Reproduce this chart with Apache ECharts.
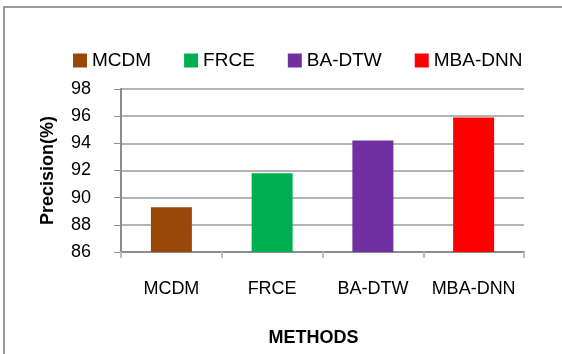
<!DOCTYPE html>
<html>
<head>
<meta charset="utf-8">
<script src="https://cdn.jsdelivr.net/npm/echarts@6/dist/echarts.min.js"></script>
<style>
  html, body { margin: 0; padding: 0; background: #fff; }
  #chart { width: 562px; height: 354px; }
</style>
</head>
<body>
<div id="chart"></div>
<script>
// Precision of each method, in percent
const methods = ['MCDM', 'FRCE', 'BA-DTW', 'MBA-DNN'];
const precision = [89.3, 91.8, 94.2, 95.9];
const colors = ['#984807', '#00B050', '#7030A0', '#FF0000'];
const yTicks = { min: 86, max: 98, step: 2 };

const FONT = 'Liberation Sans';

// One series per method so each gets its own legend entry;
// barGap -100% keeps each bar centred on its category.
const series = methods.map((name, i) => ({
  name,
  type: 'bar',
  barWidth: 41,
  barGap: '-100%',
  itemStyle: { color: colors[i] },
  data: methods.map((_, j) => (j === i ? precision[i] : '-'))
}));

const chart = echarts.init(document.getElementById('chart'), null, { renderer: 'canvas' });
chart.setOption({
  animation: false,
  backgroundColor: '#fff',
  textStyle: { fontFamily: FONT },
  legend: {
    data: methods,
    left: 73,
    top: 51,
    padding: 0,
    icon: 'rect',
    itemWidth: 14,
    itemHeight: 14,
    itemGap: 33,
    textStyle: { fontFamily: FONT, fontSize: 19, color: '#000' }
  },
  grid: { left: 121, right: 38, top: 89, bottom: 102, containLabel: false },
  xAxis: {
    type: 'category',
    data: methods,
    name: 'METHODS',
    nameLocation: 'middle',
    nameGap: 77,
    nameTextStyle: { fontFamily: FONT, fontSize: 18, fontWeight: 'bold', color: '#000', padding: [0, 18, 0, 0] },
    axisLine: { lineStyle: { color: '#8c8c8c', width: 2 } },
    axisTick: { show: true, length: 6, alignWithLabel: false, lineStyle: { color: '#bdbdbd', width: 2 } },
    axisLabel: { interval: 0, fontFamily: FONT, fontSize: 18, color: '#000', margin: 28 }
  },
  yAxis: {
    type: 'value',
    min: yTicks.min,
    max: yTicks.max,
    interval: yTicks.step,
    name: 'Precision(%)',
    nameLocation: 'middle',
    nameGap: 64,
    nameRotate: 90,
    nameTextStyle: { fontFamily: FONT, fontSize: 18, fontWeight: 'bold', color: '#000' },
    axisLine: { show: true, lineStyle: { color: '#8c8c8c', width: 2 } },
    axisTick: { show: true, length: 7, lineStyle: { color: '#8c8c8c', width: 1 } },
    axisLabel: { fontFamily: FONT, fontSize: 18, color: '#000', margin: 30 },
    splitLine: { show: true, lineStyle: { color: '#b4b4b4', width: 2 } }
  },
  graphic: [{
    type: 'polyline',
    shape: { points: [[4, 354], [4, 7], [562, 7]] },
    style: { stroke: '#9a9a9a', lineWidth: 2, fill: null },
    silent: true
  }],
  series
});
</script>
</body>
</html>
